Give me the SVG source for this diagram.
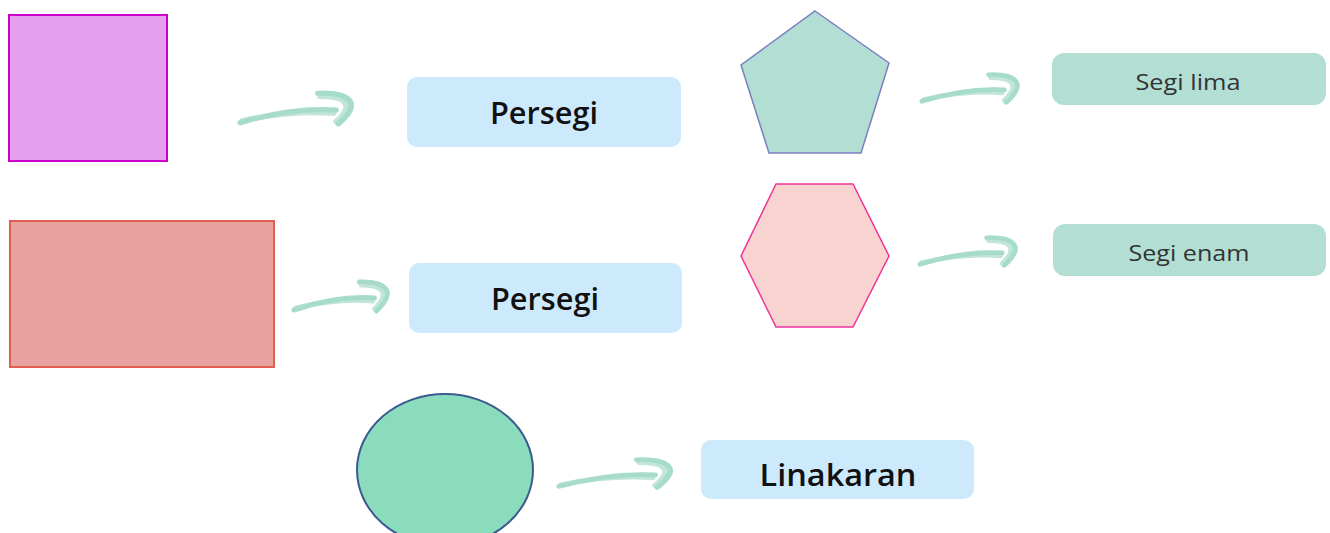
<svg xmlns="http://www.w3.org/2000/svg" xmlns:xlink="http://www.w3.org/1999/xlink" width="1330" height="533" viewBox="0 0 1330 533">
<style>
.lbl{fill:#cdeafd}
.lblg{fill:#b2ded4}
.big{font-family:"Open Sans","Liberation Sans",sans-serif;font-weight:600;font-size:31px;fill:#111;text-anchor:middle}
.small{font-family:"Open Sans","Liberation Sans",sans-serif;font-size:22px;fill:#333;text-anchor:middle}
.arr{fill:none;stroke:#a6dcc8;stroke-linecap:round;stroke-width:5}
</style>
<defs>
<g id="brush">
<path class="arr" d="M2,33 C30,24 58,19 86,21"/>
<path class="arr" d="M4,31 C30,25 58,22 84,24" stroke-width="3" opacity="0.7"/>
<path class="arr" d="M70,5 C94,4 112,12 88,34"/>
<path class="arr" d="M72,8 C92,8 104,14 86,32" stroke-width="3" opacity="0.7"/>
</g>
</defs>
<g id="square"><rect x="9" y="15" width="158" height="146" fill="#e69ef0" stroke="#cc00cc" stroke-width="2"/></g>
<g id="rectangle"><rect x="10" y="221" width="264" height="146" fill="#e8a3a0" stroke="#e06050" stroke-width="2"/></g>
<g id="circle"><ellipse cx="445" cy="470" rx="88" ry="76" fill="#8adcbc" stroke="#3a5a90" stroke-width="2"/></g>
<g id="pentagon"><polygon points="815,11 889,63 861,153 769,153 741,65" fill="#b2ded4" stroke="#7a80c0" stroke-width="1.5"/></g>
<g id="hexagon"><polygon points="741,256 776,184 853,184 889,256 853,327 776,327" fill="#f9d3d0" stroke="#ee3399" stroke-width="1.5"/></g>
<g id="persegi1"><rect class="lbl" x="407" y="77" width="274" height="70" rx="10"/><text class="big" x="544" y="124" textLength="108" lengthAdjust="spacingAndGlyphs">Persegi</text></g>
<g id="persegi2"><rect class="lbl" x="409" y="263" width="273" height="70" rx="10"/><text class="big" x="545" y="310" textLength="108" lengthAdjust="spacingAndGlyphs">Persegi</text></g>
<g id="linakaran"><rect class="lbl" x="701" y="440" width="273" height="59" rx="10"/><text class="big" x="838" y="486" textLength="157" lengthAdjust="spacingAndGlyphs">Linakaran</text></g>
<g id="segilima"><rect class="lblg" x="1052" y="53" width="274" height="52" rx="12"/><text class="small" x="1188" y="90" textLength="105" lengthAdjust="spacingAndGlyphs">Segi lima</text></g>
<g id="segienam"><rect class="lblg" x="1053" y="224" width="273" height="52" rx="12"/><text class="small" x="1189" y="261" textLength="121" lengthAdjust="spacingAndGlyphs">Segi enam</text></g>
<g id="connectors">
<use xlink:href="#brush" transform="translate(238,88) scale(1.14,1.05)"/>
<use xlink:href="#brush" transform="translate(292,277) scale(0.96,1)"/>
<use xlink:href="#brush" transform="translate(920,70) scale(0.98,0.95)"/>
<use xlink:href="#brush" transform="translate(918,233) scale(0.98,0.95)"/>
<use xlink:href="#brush" transform="translate(557,455) scale(1.14,0.95)"/>
</g>
</svg>
